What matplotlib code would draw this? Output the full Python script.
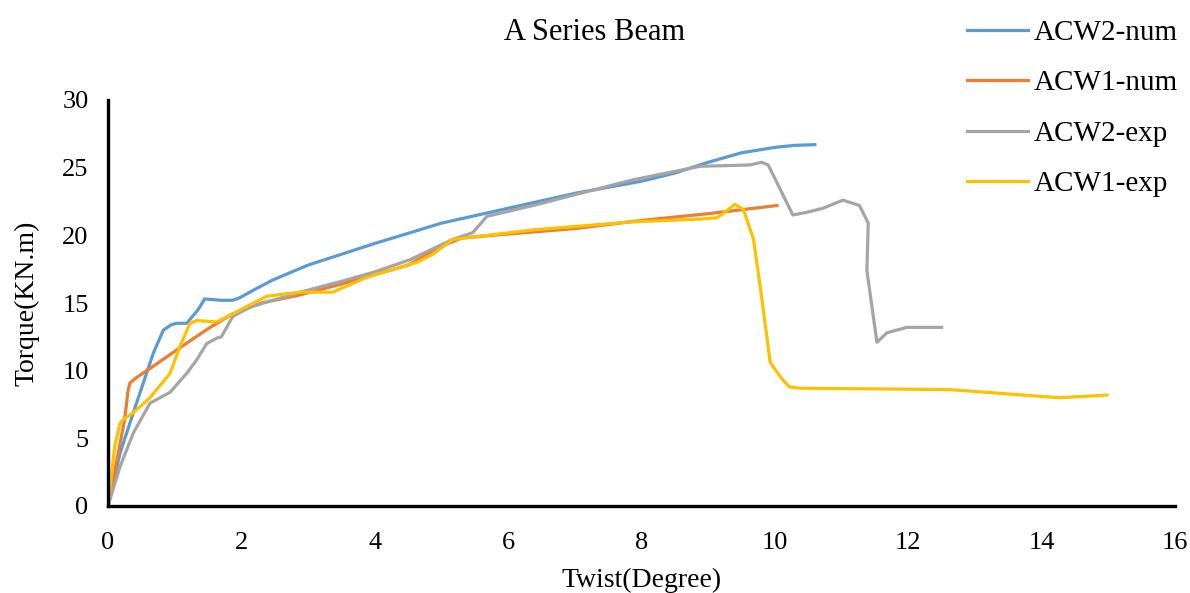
import matplotlib.pyplot as plt

# Torque vs twist data
acw2_num_x = [0, 0.18, 0.38, 0.53, 0.68, 0.83, 0.95, 1.03, 1.18, 1.35, 1.45, 1.7, 1.87, 1.98, 2.2, 2.47,
              3, 4, 5, 6, 7, 8, 8.5, 9, 9.5, 10, 10.3, 10.6]
acw2_num_y = [0, 3.9, 6.9, 9.1, 11.3, 13.0, 13.4, 13.5, 13.5, 14.5, 15.3, 15.2, 15.2, 15.4, 16.0, 16.7,
              17.8, 19.4, 20.9, 22.0, 23.1, 24.0, 24.6, 25.4, 26.1, 26.5, 26.65, 26.7]

acw1_num_x = [0, 0.25, 0.3, 0.33, 0.43, 0.7, 1.08, 1.5, 1.87, 2.3, 2.88, 3.5, 4, 4.5, 5, 5.3,
              6, 7, 8, 9, 10.03]
acw1_num_y = [0, 6.4, 8.5, 9.1, 9.5, 10.4, 11.7, 13.1, 14.2, 15.0, 15.6, 16.4, 17.1, 17.8, 19.2, 19.8,
              20.1, 20.5, 21.1, 21.6, 22.2]

acw2_exp_x = [0, 0.18, 0.38, 0.63, 0.78, 0.93, 1.18, 1.33, 1.48, 1.63, 1.7, 1.87, 2.13, 2.88, 3.5, 4.0,
              4.53, 5.17, 5.47, 5.68, 6.37, 7, 7.87, 8.88, 9.63, 9.8, 9.9, 10.27, 10.48, 10.72,
              11.02, 11.27, 11.4, 11.38, 11.53, 11.68, 11.98, 12.5]
acw2_exp_y = [0, 2.9, 5.4, 7.6, 8.0, 8.4, 9.8, 10.8, 12.0, 12.4, 12.5, 14.0, 14.7, 15.8, 16.6, 17.3,
              18.2, 19.7, 20.2, 21.4, 22.2, 23.0, 24.1, 25.1, 25.2, 25.4, 25.2, 21.5, 21.7, 22.0,
              22.6, 22.2, 20.9, 17.4, 12.1, 12.8, 13.2, 13.2]

acw1_exp_x = [0, 0.1, 0.18, 0.23, 0.38, 0.63, 0.93, 1.08, 1.23, 1.33, 1.63, 1.87, 2.38, 2.88, 3.37,
              3.88, 4.63, 4.87, 5.17, 6.37, 7.87, 8.88, 9.13, 9.25, 9.4, 9.53, 9.68, 9.8, 9.93,
              10.12, 10.22, 10.37, 11.62, 12.62, 14.27, 14.98]
acw1_exp_y = [0, 4.4, 6.1, 6.4, 6.9, 8.0, 9.8, 11.8, 13.5, 13.7, 13.6, 14.2, 15.5, 15.8, 15.8,
              16.9, 18.0, 18.6, 19.7, 20.4, 21.0, 21.2, 21.3, 21.7, 22.3, 21.9, 19.7, 15.5, 10.6,
              9.3, 8.8, 8.7, 8.65, 8.6, 8.0, 8.2]

plt.rcParams['font.family'] = ['Liberation Serif', 'DejaVu Serif']

fig = plt.figure(figsize=(11.9, 5.93), dpi=100)
ax = fig.add_axes([108 / 1190, 1 - 506 / 593, (1175 - 108) / 1190, (506 - 100) / 593])

lw = 2.3
ax.plot(acw2_num_x, acw2_num_y, color="#5B9BD5", lw=lw, label="ACW2-num")
ax.plot(acw1_num_x, acw1_num_y, color="#ED7D31", lw=lw, label="ACW1-num")
ax.plot(acw2_exp_x, acw2_exp_y, color="#A5A5A5", lw=lw, label="ACW2-exp")
ax.plot(acw1_exp_x, acw1_exp_y, color="#FFC000", lw=lw, label="ACW1-exp")

ax.set_xlim(0, 16)
ax.set_ylim(0, 30)
ax.set_xticks(range(0, 17, 2))
ax.set_yticks(range(0, 31, 5))

for side in ["top", "right"]:
    ax.spines[side].set_visible(False)
for side in ["left", "bottom"]:
    ax.spines[side].set_linewidth(2.4)
    ax.spines[side].set_color("black")

ax.tick_params(axis="both", length=0, labelsize=19)
ax.tick_params(axis="x", pad=19)
ax.tick_params(axis="y", pad=14)

ax.set_xlabel("Twist(Degree)", fontsize=20, labelpad=10)
ax.set_ylabel("Torque(KN.m)", fontsize=20, labelpad=16)

fig.text(0.5, 1 - 33 / 593, "A Series Beam", ha="center", va="center", fontsize=22)

fig.legend(loc="upper left", bbox_to_anchor=(955 / 1190, 1 - 8 / 593), frameon=False,
           fontsize=21, handlelength=2.1, handletextpad=0.2, labelspacing=0.82,
           borderaxespad=0)

fig.savefig("out.png", dpi=100)
